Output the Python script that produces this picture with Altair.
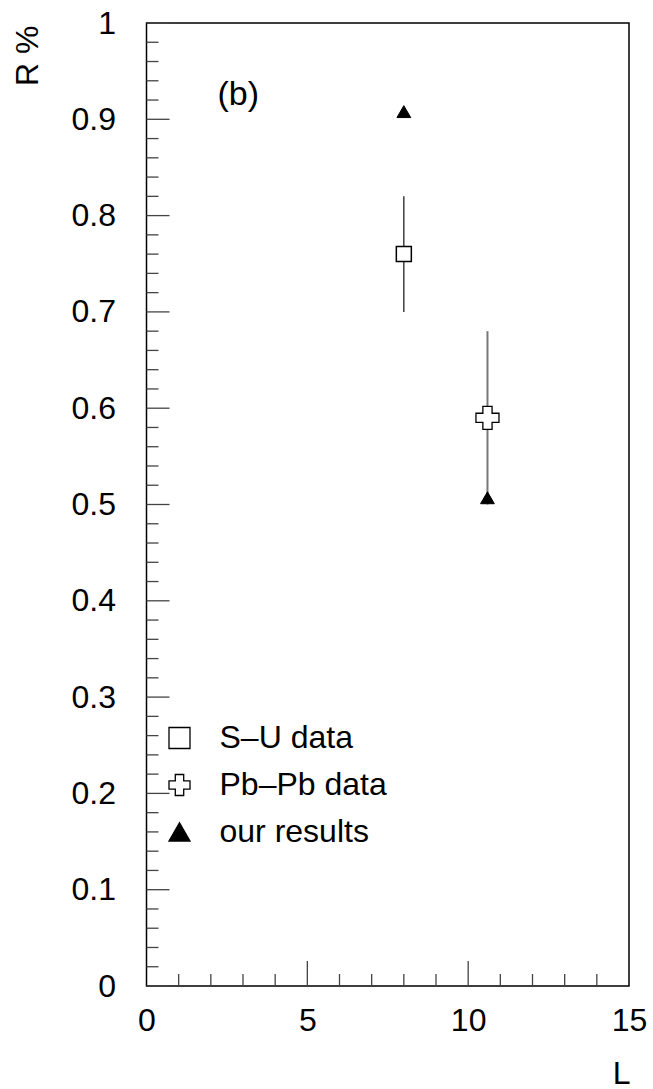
import altair as alt
import pandas as pd

# ---- data ----
series_names = ["S–U data", "Pb–Pb data", "our results"]
series_shapes = ["square", "cross", "triangle-up"]
series_fills = ["white", "white", "black"]
series_strokes = ["black", "black", "black"]

su_L = [8.0]
su_R = [0.76]
su_lo = [0.70]
su_hi = [0.82]

pb_L = [10.6]
pb_R = [0.59]
pb_lo = [0.50]
pb_hi = [0.68]

our_L = [8.0, 10.6]
our_R = [0.908, 0.507]

annot_text = ["(b)"]
annot_L = [2.85]
annot_R = [0.925]

x_major = [0, 5, 10, 15]
x_minor = [1, 2, 3, 4, 6, 7, 8, 9, 11, 12, 13, 14]
y_major = [0.0, 0.1, 0.2, 0.3, 0.4, 0.5, 0.6, 0.7, 0.8, 0.9, 1.0]
y_minor = [0.02, 0.04, 0.06, 0.08, 0.12, 0.14, 0.16, 0.18, 0.22, 0.24, 0.26, 0.28,
           0.32, 0.34, 0.36, 0.38, 0.42, 0.44, 0.46, 0.48, 0.52, 0.54, 0.56, 0.58,
           0.62, 0.64, 0.66, 0.68, 0.72, 0.74, 0.76, 0.78, 0.82, 0.84, 0.86, 0.88,
           0.92, 0.94, 0.96, 0.98]

W = 482.5
H = 963
FONT = "Liberation Sans"
FS = 32

su_df = pd.DataFrame({"L": su_L, "R": su_R, "R_lo": su_lo, "R_hi": su_hi,
                      "series": [series_names[0]] * len(su_L)})
pb_df = pd.DataFrame({"L": pb_L, "R": pb_R, "R_lo": pb_lo, "R_hi": pb_hi,
                      "series": [series_names[1]] * len(pb_L)})
our_df = pd.DataFrame({"L": our_L, "R": our_R, "series": [series_names[2]] * len(our_L)})
annot_df = pd.DataFrame({"L": annot_L, "R": annot_R, "t": annot_text})

xscale = alt.Scale(domain=[0, 15], nice=False, zero=False)
yscale = alt.Scale(domain=[0, 1], nice=False, zero=False)

xaxis = alt.Axis(values=x_major, ticks=False, domain=False, grid=False,
                 labelFontSize=FS, labelFont=FONT, labelColor="black",
                 labelPadding=19, labelFlush=False,
                 title="L", titleFont=FONT, titleFontSize=FS, titleFontWeight="normal",
                 titleColor="black", titleAnchor="end", titleAlign="right",
                 titleBaseline="alphabetic", titleX=W + 1, titleY=97)
yaxis = alt.Axis(values=y_major, format="~g", ticks=False, domain=False, grid=False,
                 labelFontSize=FS, labelFont=FONT, labelColor="black",
                 labelPadding=31, labelFlush=False,
                 title="R %", titleFont=FONT, titleFontSize=FS, titleFontWeight="normal",
                 titleColor="black", titleAngle=270, titleAlign="right",
                 titleBaseline="alphabetic", titleX=-109.5, titleY=2)

xenc = alt.X("L:Q", scale=xscale, axis=xaxis)
yenc = alt.Y("R:Q", scale=yscale, axis=yaxis)

legend = alt.Legend(title=None, orient="none", legendX=17, legendY=699,
                    labelFont=FONT, labelFontSize=FS, labelColor="black",
                    labelLimit=400,
                    symbolSize=441, symbolStrokeWidth=1.3,
                    labelOffset=24, rowPadding=15, padding=0)

shape_enc = alt.Shape("series:N", scale=alt.Scale(domain=series_names, range=series_shapes),
                      legend=legend)
fill_enc = alt.Fill("series:N", scale=alt.Scale(domain=series_names, range=series_fills),
                    legend=legend)
stroke_enc = alt.Stroke("series:N", scale=alt.Scale(domain=series_names, range=series_strokes),
                        legend=legend)

# ticks (inward) drawn as rules from the tick value lists
ymaj_df = pd.DataFrame({"R": y_major})
ymin_df = pd.DataFrame({"R": y_minor})
xmaj_df = pd.DataFrame({"L": x_major[1:-1]})
xmin_df = pd.DataFrame({"L": x_minor})

tick_color = "#444444"
ymaj = alt.Chart(ymaj_df).mark_rule(color=tick_color, strokeWidth=1.3).encode(
    y=yenc, x=alt.value(0), x2=alt.value(23))
ymin = alt.Chart(ymin_df).mark_rule(color=tick_color, strokeWidth=1.3).encode(
    y=yenc, x=alt.value(0), x2=alt.value(12))
xmaj = alt.Chart(xmaj_df).mark_rule(color=tick_color, strokeWidth=1.3).encode(
    x=xenc, y=alt.value(H), y2=alt.value(H - 25))
xmin = alt.Chart(xmin_df).mark_rule(color=tick_color, strokeWidth=1.3).encode(
    x=xenc, y=alt.value(H), y2=alt.value(H - 12))

su_err = alt.Chart(su_df).mark_rule(color="#222222", strokeWidth=1.3).encode(
    x=xenc, y=alt.Y("R_lo:Q", scale=yscale, axis=yaxis), y2="R_hi:Q")
pb_err = alt.Chart(pb_df).mark_rule(color="#777777", strokeWidth=2).encode(
    x=xenc, y=alt.Y("R_lo:Q", scale=yscale, axis=yaxis), y2="R_hi:Q")

su_pts = alt.Chart(su_df).mark_point(size=225, strokeWidth=1.5,
                                     opacity=1, filled=True).encode(
    x=xenc, y=yenc, shape=shape_enc, fill=fill_enc, stroke=stroke_enc)
pb_pts = alt.Chart(pb_df).mark_point(size=530, strokeWidth=1.3,
                                     opacity=1, filled=True).encode(
    x=xenc, y=yenc, shape=shape_enc, fill=fill_enc, stroke=stroke_enc)
our_pts = alt.Chart(our_df).mark_point(size=190, strokeWidth=1,
                                       opacity=1, filled=True).encode(
    x=xenc, y=yenc, shape=shape_enc, fill=fill_enc, stroke=stroke_enc)

annot = alt.Chart(annot_df).mark_text(font=FONT, fontSize=FS + 2, color="black",
                                      align="center", baseline="middle").encode(
    x=xenc, y=yenc, text="t:N")

chart = alt.layer(ymaj, ymin, xmaj, xmin, su_err, pb_err, su_pts, pb_pts, our_pts, annot).properties(
    width=W, height=H,
    autosize=alt.AutoSizeParams(type="none"),
    padding={"left": 146.5, "top": 23, "right": 653 - 146.5 - W, "bottom": 1089 - 23 - H},
    background="white",
).configure_view(stroke="black", strokeWidth=1.5).configure_axis(grid=False)

chart.save("out.html", embed_options={"renderer": "svg", "actions": False})
